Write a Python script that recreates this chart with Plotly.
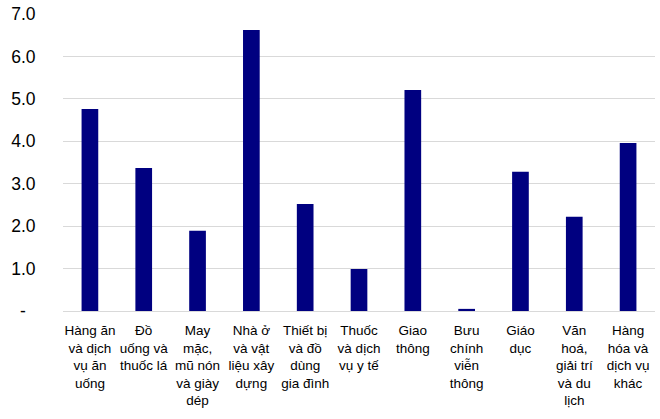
import plotly.graph_objects as go

categories = [
    "Hàng ăn<br>và dịch<br>vụ ăn<br>uống",
    "Đồ<br>uống và<br>thuốc lá",
    "May<br>mặc,<br>mũ nón<br>và giày<br>dép",
    "Nhà ở<br>và vật<br>liệu xây<br>dựng",
    "Thiết bị<br>và đồ<br>dùng<br>gia đình",
    "Thuốc<br>và dịch<br>vụ y tế",
    "Giao<br>thông",
    "Bưu<br>chính<br>viễn<br>thông",
    "Giáo<br>dục",
    "Văn<br>hoá,<br>giải trí<br>và du<br>lịch",
    "Hàng<br>hóa và<br>dịch vụ<br>khác",
]
values = [4.76, 3.37, 1.89, 6.62, 2.52, 0.99, 5.21, 0.05, 3.28, 2.22, 3.96]

y_ticks = [0, 1, 2, 3, 4, 5, 6, 7]
y_ticktext = ["-\u00a0\u00a0", "1.0", "2.0", "3.0", "4.0", "5.0", "6.0", "7.0"]

fig = go.Figure(
    go.Bar(
        x=list(range(len(categories))),
        y=values,
        marker=dict(color="#000080", line=dict(width=0)),
    )
)

fig.update_layout(
    width=660,
    height=419,
    margin=dict(l=63, r=5, t=14, b=108),
    plot_bgcolor="white",
    paper_bgcolor="white",
    bargap=0.69,
    showlegend=False,
    font=dict(family="Liberation Sans, Arial, sans-serif", color="#000000"),
)

fig.update_xaxes(
    tickmode="array",
    tickvals=list(range(len(categories))),
    ticktext=categories,
    tickfont=dict(size=13.5),
    range=[-0.5, len(categories) - 0.5],
    showgrid=False,
    showline=True,
    linecolor="#d9d9d9",
    linewidth=1,
    ticks="outside",
    ticklen=7,
    tickcolor="rgba(0,0,0,0)",
)

fig.update_yaxes(
    range=[0, 7],
    tickmode="array",
    tickvals=y_ticks,
    ticktext=y_ticktext,
    tickfont=dict(size=17.5),
    showgrid=True,
    gridcolor="#d9d9d9",
    gridwidth=1,
    zeroline=False,
    ticks="outside",
    ticklen=23,
    tickcolor="rgba(0,0,0,0)",
)

fig.write_html("out.html")
